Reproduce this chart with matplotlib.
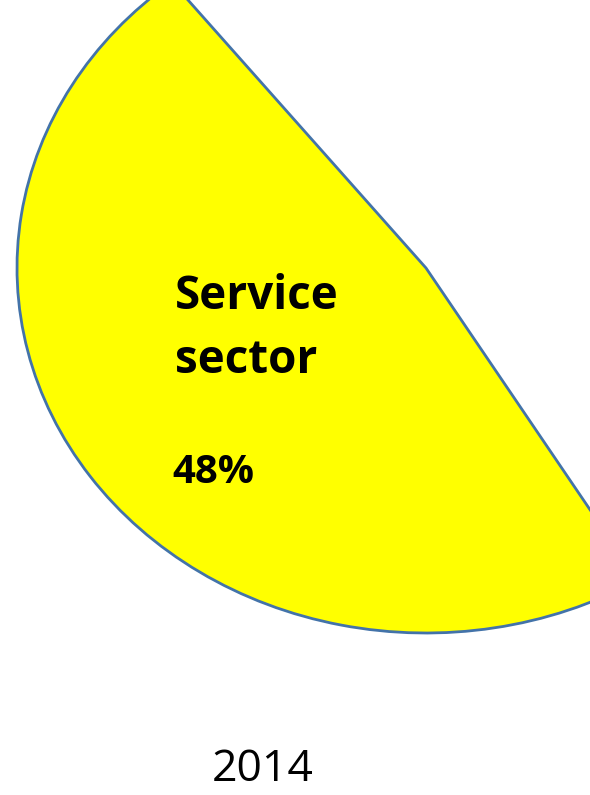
import matplotlib
matplotlib.use("Agg")
import matplotlib.pyplot as plt

# Sector shares of the economy, 2014 (only the service sector is shown)
sectors = ["Service\nsector", "Other sectors"]
shares = [48, 52]
year = "2014"

fill_colors = ["#FFFF00", "none"]
edge_color = "#4373A9"

W, H = 590, 795
fig = plt.figure(figsize=(W / 100, H / 100), dpi=100)

# Pie centre and (stretched) radii in pixels
cx, cy, rx, ry = 426, 268, 409, 365
ax = fig.add_axes([(cx - rx) / W, (H - (cy + ry)) / H, 2 * rx / W, 2 * ry / H])

wedges, _ = ax.pie(
    shares,
    colors=fill_colors,
    startangle=128.4,
    counterclock=True,
    radius=1.0,
    wedgeprops=dict(linewidth=2.0, edgecolor=edge_color),
)
# Only the first sector is outlined
wedges[1].set_edgecolor("none")
ax.set_aspect("auto")
ax.set_xlim(-1, 1)
ax.set_ylim(-1, 1)
ax.axis("off")

fig.text(175 / W, 1 - 373 / H, sectors[0], ha="left", va="baseline",
         fontsize=33, fontweight="bold", family="Open Sans",
         linespacing=1.47, color="black")
fig.text(172 / W, 1 - 483 / H, f"{shares[0]}%", ha="left", va="baseline",
         fontsize=29, fontweight="bold", family="Open Sans", color="black")
fig.text(263 / W, 1 - 781 / H, year, ha="center", va="baseline",
         fontsize=32, family="Open Sans", color="black")

fig.savefig("out.png", dpi=100)
